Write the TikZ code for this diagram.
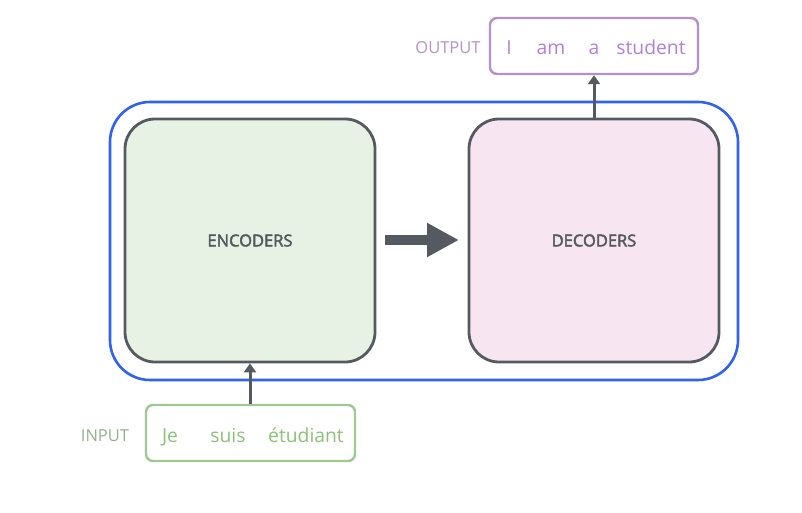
\documentclass[tikz,border=0pt]{standalone}
\usepackage{fontspec}
\setmainfont{Open Sans}
\newfontfamily\semib{Open Sans}[FakeBold=2.6]
\usetikzlibrary{arrows.meta}
\definecolor{blueb}{HTML}{2F62EE}
\definecolor{darkg}{HTML}{555A60}
\definecolor{encf}{HTML}{E8F2E4}
\definecolor{decf}{HTML}{F7E6F1}
\definecolor{outc}{HTML}{B590CC}
\definecolor{outt}{HTML}{B17FD9}
\definecolor{inc}{HTML}{9DC894}
\definecolor{intt}{HTML}{8BC177}
\definecolor{inl}{HTML}{94AE8E}
\begin{document}
\begin{tikzpicture}[x=1pt,y=-1pt,
  mainbox/.style={draw=darkg,line width=2.8pt,rounded corners=30pt,minimum width=250pt,minimum height=243pt,inner sep=0pt,font=\semib\fontsize{16.5}{18}\selectfont,text=darkg},
  wordbox/.style={line width=2.4pt,rounded corners=7pt,minimum height=56pt,inner sep=0pt},
  lbl/.style={font=\fontsize{16.5}{18}\selectfont,anchor=base,inner sep=0pt},
  word/.style={font=\fontsize{19.3}{21}\selectfont,anchor=base,inner sep=0pt},
  conn/.style={draw=darkg,line width=3pt,-{Triangle[length=9pt,width=12pt]}}]
\useasboundingbox (0,0) rectangle (802,513);
\node[draw=blueb,line width=2.6pt,rounded corners=40pt,minimum width=628pt,minimum height=278pt] (outer) at (424,241) {};
\node[mainbox,fill=encf] (enc) at (250,240.5) {ENCODERS};
\node[mainbox,fill=decf] (dec) at (594,240.5) {DECODERS};
\coordinate (ba) at (385,240);
\coordinate (bb) at (459,240);
\draw[darkg,line width=10pt,-{Triangle[length=32pt,width=32pt]}] (ba) -- (bb);
\node[wordbox,draw=outc,minimum width=208pt] (out) at (594,46) {};
\node[lbl,text=outc] (outl) at (448,53.5) {OUTPUT};
\node[word,text=outt] (w1) at (509,54.5) {I};
\node[word,text=outt] (w2) at (551,54.5) {am};
\node[word,text=outt] (w3) at (594,54.5) {a};
\node[word,text=outt] (w4) at (651,54.5) {student};
\node[wordbox,draw=inc,minimum width=209pt] (in) at (250.5,433) {};
\node[lbl,text=inl] (inl) at (105,441) {INPUT};
\node[word,text=intt] (v1) at (170,442) {Je};
\node[word,text=intt] (v2) at (228,442) {suis};
\node[word,text=intt] (v3) at (306,442) {étudiant};
\draw[conn] (dec.north) -- (out.south);
\draw[conn] (in.north -| enc.south) -- (enc.south);
\end{tikzpicture}
\end{document}
